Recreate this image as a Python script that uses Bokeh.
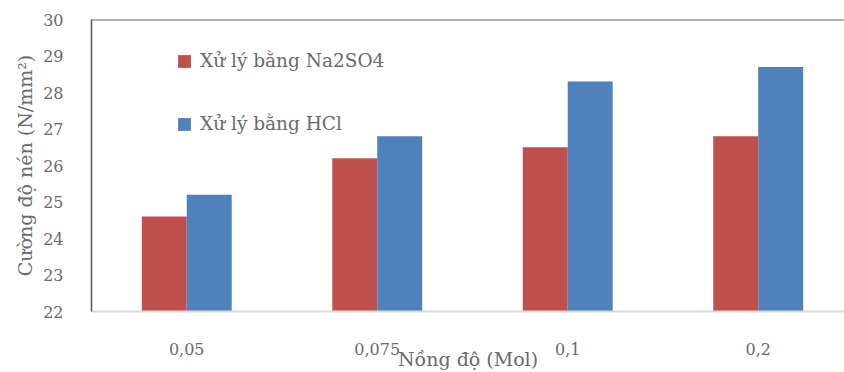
from bokeh.plotting import figure
from bokeh.models import Range1d, FixedTicker, Legend, LegendItem, ColumnDataSource
from bokeh.embed import file_html
from bokeh.resources import INLINE

categories = ["0,05", "0,075", "0,1", "0,2"]
na2so4 = [24.6, 26.2, 26.5, 26.8]
hcl = [25.2, 26.8, 28.3, 28.7]
series_names = ["Xử lý bằng Na2SO4", "Xử lý bằng HCl"]
y_ticks = [22, 23, 24, 25, 26, 27, 28, 29, 30]

FONT = "DejaVu Serif"
TXT = "#6a6a6a"

xc = [i + 0.5 for i in range(len(categories))]
bw = 0.236
src = ColumnDataSource(dict(
    xr=[x - bw / 2 for x in xc],
    xb=[x + bw / 2 for x in xc],
    r=na2so4, b=hcl,
))

p = figure(width=844, height=372, output_backend="svg", toolbar_location=None,
           x_range=Range1d(0, 3.953), y_range=Range1d(22, 30))
p.min_border_left = 91
p.min_border_right = 0
p.min_border_top = 19
p.min_border_bottom = 58
p.outline_line_color = None
p.grid.visible = False
p.background_fill_color = "white"
p.border_fill_color = "white"

rr = p.vbar(x="xr", top="r", bottom=22, width=bw, source=src,
            fill_color="#C0504D", line_color=None)
rb = p.vbar(x="xb", top="b", bottom=22, width=bw, source=src,
            fill_color="#4F81BD", line_color=None)

# top border line
p.hspan(y=[30], line_color="#666666", line_width=2)

ya = p.yaxis[0]
ya.ticker = FixedTicker(ticks=y_ticks)
ya.axis_line_color = "#555555"
ya.axis_line_width = 1.5
ya.major_tick_line_color = None
ya.minor_tick_line_color = None
ya.major_label_text_font = FONT
ya.major_label_text_font_size = "16px"
ya.major_label_text_color = TXT
ya.major_label_standoff = 22
ya.axis_label = "Cường độ nén (N/mm²)"
ya.axis_label_text_font = FONT
ya.axis_label_text_font_size = "19px"
ya.axis_label_text_font_style = "normal"
ya.axis_label_text_color = TXT
ya.axis_label_standoff = 4

xa = p.xaxis[0]
xa.ticker = FixedTicker(ticks=xc)
xa.major_label_overrides = {x: c for x, c in zip(xc, categories)}
xa.axis_line_color = "#d9d9d9"
xa.axis_line_width = 2
xa.major_tick_line_color = None
xa.minor_tick_line_color = None
xa.major_label_text_font = FONT
xa.major_label_text_font_size = "16px"
xa.major_label_text_color = TXT
xa.major_label_standoff = 25
xa.axis_label = "Nồng độ (Mol)"
xa.axis_label_text_font = FONT
xa.axis_label_text_font_size = "19px"
xa.axis_label_text_font_style = "normal"
xa.axis_label_text_color = TXT
xa.axis_label_standoff = -10

legend = Legend(items=[LegendItem(label=series_names[0], renderers=[rr]),
                       LegendItem(label=series_names[1], renderers=[rb])],
                location=(85, 295 - 38 - 80))
legend.glyph_width = 16
legend.glyph_height = 16
legend.label_text_font = FONT
legend.label_text_font_size = "18.5px"
legend.label_text_color = TXT
legend.label_standoff = 8
legend.spacing = 42
legend.padding = 0
legend.margin = 0
legend.border_line_color = None
legend.background_fill_alpha = 0
p.add_layout(legend, "center")

open("out.html", "w").write(file_html(p, INLINE))
